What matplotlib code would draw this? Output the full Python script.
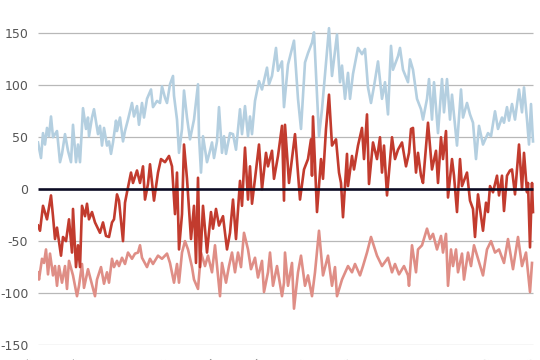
import numpy as np
import matplotlib
matplotlib.use("Agg")
import matplotlib.pyplot as plt

# time index (0..495) and values
blue_t = [0, 3, 5, 7, 9, 11, 13, 15, 19, 22, 24, 27, 30, 33, 35, 38, 40, 42, 45, 48,
          50, 51, 54, 56, 60, 62, 64, 66, 69, 71, 73, 75, 78, 79, 82, 85, 87, 90, 94, 96,
          99, 101, 104, 106, 109, 113, 115, 119, 122,
          124, 127, 129, 132, 135, 136, 139, 141, 144, 146, 149, 152, 156, 160, 161, 163,
          165, 169, 172, 174, 176, 179, 181, 184, 186, 188, 192, 195, 198, 202, 204, 207,
          210, 212, 214, 217, 221, 224, 229, 231, 234, 238, 240, 244, 246,
          250, 256, 260, 263, 267, 270, 274, 276, 279, 281, 284, 288, 291, 294, 299, 302,
          304, 307, 310, 312, 315, 320, 324, 327, 330, 333, 336, 340, 344, 347, 350, 353,
          355, 360, 362, 365, 370,
          372, 375, 379, 383, 385, 389, 391, 394, 396, 400, 404, 406, 409, 412, 414, 419,
          423, 425, 429, 432, 435, 438, 441, 445, 450, 453, 457, 460, 464, 466, 469, 471,
          474, 477, 481, 484, 486, 489, 491, 493, 495]
blue_v = [45, 30, 54, 43, 59, 51, 70, 50, 56, 26, 34, 53, 37, 26, 62, 26, 43, 26, 78, 58,
          69, 51, 69, 77, 53, 61, 42, 59, 42, 46, 34, 45, 66, 56, 69, 46, 56, 67, 83, 70,
          80, 62, 83, 69, 87, 96, 79, 85, 83,
          99, 88, 83, 101, 109, 90, 67, 35, 58, 95, 69, 48, 67, 101, 51, 16,
          51, 26, 37, 45, 30, 46, 79, 35, 51, 34, 54, 53, 38, 77, 53, 80,
          51, 70, 53, 85, 104, 96, 117, 101, 109, 136, 114, 123, 79,
          120, 143, 87, 58, 122, 131, 141, 151, 90, 51, 77, 122, 155, 109, 149, 103,
          119, 87, 112, 87, 111, 136, 130, 135, 98, 83, 99, 123, 87, 103, 72, 138,
          115, 128, 136, 115, 103,
          125, 115, 87, 77, 67, 87, 106, 67, 103, 54, 106, 74, 106, 67, 91, 42,
          96, 69, 83, 72, 64, 29, 61, 43, 54, 51, 75, 58, 69, 64, 79, 66,
          82, 67, 96, 74, 98, 67, 43, 82, 46]

red_t = [0, 2, 5, 9, 13, 15, 17, 19, 23, 25, 28, 31, 34, 35, 38, 40, 42, 44, 47, 49,
         51, 54, 57, 62, 65, 68, 71, 74, 76, 79, 81, 85, 87, 89, 93, 95, 99, 102, 105, 107,
         110, 112, 116, 120,
         123, 127, 131, 134, 137, 139, 141, 144, 146, 149, 153, 156, 158, 160, 162, 165,
         169, 173, 175, 178, 181, 185, 189, 192, 195, 198, 202, 204, 207, 210, 212, 214,
         217, 221, 224, 228, 230, 234, 236, 240, 244, 246,
         247, 251, 257, 262, 266, 270, 273, 274, 275, 279, 283, 285, 288, 291, 294, 298,
         301, 303, 305, 309, 310, 314, 316, 320, 324, 326, 329, 331, 335, 339, 342, 344,
         346, 349, 354, 357, 360, 364, 368, 371,
         373, 375, 378, 380, 383, 385, 390, 394, 398, 400, 403, 405, 408, 410, 414, 416,
         419, 422, 424, 429, 432, 435, 437, 440, 445, 448, 450, 452, 455, 459, 461, 464,
         466, 469, 472, 474, 477, 481, 484, 486, 489, 490, 492, 494, 495]
red_v = [-35, -40, -16, -29, -6, -26, -48, -37, -64, -46, -50, -29, -61, -19, -75, -54, -75, -16, -26, -14,
         -29, -22, -32, -42, -32, -45, -46, -32, -29, -5, -11, -50, -13, -3, 16, 6, 18, 6, 22, -10,
         5, 24, -11, 16,
         29, 26, 32, 22, -24, 16, -58, -24, 43, 10, -48, -16, -71, 11, -75, -16,
         -61, -22, -38, -19, -35, -26, -58, -42, -10, -48, 8, -16, 40, -10, 22, -14,
         10, 43, 0, 35, 22, 37, 10, 32, 61, -11,
         62, 6, 53, -10, 19, 29, 48, 13, 70, -22, 29, 10, 58, 91, 42, 48,
         16, 6, -27, 34, 3, 32, 19, 42, 59, 29, 72, 5, 45, 29, 50, 16,
         42, -6, 50, 29, 38, 45, 22, 35,
         58, 59, 16, 35, 13, 6, 64, 19, 37, 6, 50, 29, 56, -8, 29, 13,
         -22, 29, 3, 16, -11, -19, -46, -5, -40, -13, -22, 3, -3, 13, -6, 13,
         -21, 13, 18, 19, -5, 43, 0, 35, -3, 6, -56, 6, -22]

pink_t = [0, 1, 4, 6, 8, 10, 12, 15, 17, 19, 21, 24, 27, 29, 31, 35, 39, 41, 44, 46,
          50, 57, 59, 63, 66, 69, 71, 74, 76, 79, 81, 84, 87, 90, 94, 97, 100, 102, 104, 109,
          112, 115, 120,
          124, 129, 132, 136, 139, 141, 144, 147, 150, 154, 156, 160, 163, 167, 170, 174,
          177, 180, 182, 184, 188, 191, 194, 197, 200, 203, 206, 210, 213, 217, 220, 224,
          226, 230, 232, 235, 239, 244, 246,
          247, 250, 254, 256, 260, 263, 267, 270, 274, 277, 281, 285, 290, 294, 297, 299,
          304, 310, 314, 317, 322, 325, 329, 333, 339, 344, 350, 354, 357, 361, 366, 370,
          371, 374, 378, 380, 384, 389, 392, 395, 399, 403, 405, 408, 410, 413, 415, 418,
          420, 424, 426, 430, 433, 436, 445, 449, 453, 457, 461, 466, 470, 475, 480, 484,
          488, 492, 494]
pink_v = [-80, -87, -67, -71, -58, -82, -62, -83, -74, -93, -74, -90, -74, -96, -69, -83, -103, -93, -72, -95,
          -77, -103, -87, -75, -91, -80, -90, -67, -75, -69, -74, -66, -72, -61, -67, -62, -61, -54, -66, -75,
          -67, -72, -64,
          -67, -62, -71, -90, -72, -90, -61, -50, -58, -75, -87, -96, -61, -74, -64, -80,
          -54, -83, -103, -71, -90, -74, -61, -80, -61, -75, -42, -58, -77, -66, -85, -69,
          -99, -80, -61, -93, -74, -103, -90,
          -61, -93, -71, -115, -80, -64, -93, -83, -103, -80, -40, -83, -64, -93, -75, -103,
          -87, -74, -80, -72, -83, -74, -61, -46, -64, -74, -66, -80, -72, -82, -74, -83,
          -93, -54, -80, -58, -54, -38, -48, -43, -58, -45, -61, -43, -93, -58, -74, -58,
          -80, -62, -87, -61, -74, -54, -83, -58, -50, -61, -58, -71, -48, -77, -46, -74,
          -61, -99, -71]

tick_pos = [0, 46, 92, 137, 183, 229, 274, 320, 366, 412, 457, 503]
tick_labels = ["Jan 2014", "Jul 2014", "Jan 2015", "Jul 2015", "Jan 2016", "Jul 2016",
               "Jan 2017", "Jul 2017", "Jan 2018", "Jul 2018", "Jan 2019", "Jul 2019"]
y_ticks = [-150, -100, -50, 0, 50, 100, 150]

plt.rcParams['axes.unicode_minus'] = False

fig = plt.figure(figsize=(5.4, 3.6), dpi=100)
ax = fig.add_axes([38/540, 15/360, 503/540, 322/360])

# manual gridlines, ending where the data ends
ax.hlines([v for v in y_ticks if v != 0], 0, 495, color='#b8b8b8', lw=0.9, zorder=1)

ax.plot(blue_t, blue_v, color='#b4cfe0', lw=1.9, zorder=2)
ax.plot(pink_t, pink_v, color='#df8e86', lw=1.9, zorder=2)
ax.plot(red_t, red_v, color='#c23b2e', lw=1.9, zorder=3)
ax.hlines(0, 0, 495, color='#0c0c24', lw=1.9, zorder=4)

ax.set_xlim(0, 503)
ax.set_ylim(-150, 160)
ax.set_yticks(y_ticks)
ax.set_yticklabels([str(v) for v in y_ticks])
ax.set_xticks(tick_pos)
ax.set_xticklabels(tick_labels, rotation=45, ha='right')
ax.tick_params(axis='y', length=0, pad=7, labelsize=9, labelcolor='#555555')
ax.tick_params(axis='x', length=0, pad=9, labelsize=9, labelcolor='#555555')
for s in ax.spines.values():
    s.set_visible(False)

fig.savefig("out.png", dpi=100)
